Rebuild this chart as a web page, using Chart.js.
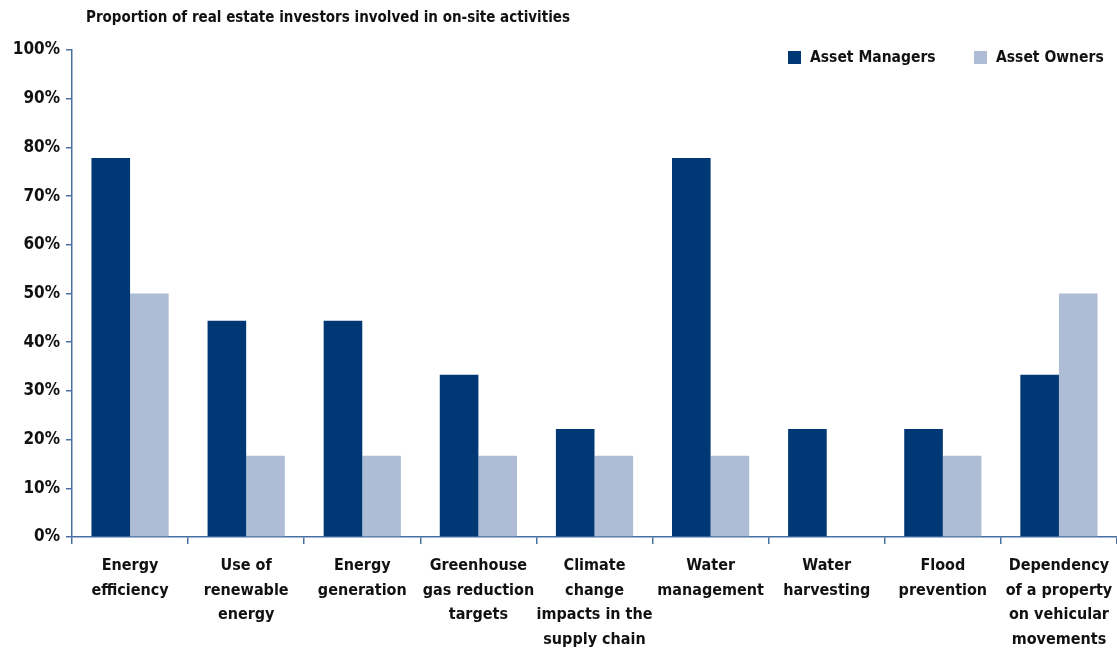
<!DOCTYPE html>
<html>
<head>
<meta charset="utf-8">
<script src="https://cdn.jsdelivr.net/npm/chart.js@4/dist/chart.umd.min.js"></script>
<style>
  html, body { margin: 0; padding: 0; background: #fff; }
  #wrap { position: relative; width: 1117px; height: 649px; }
  #title {
    position: absolute; left: 86px; top: 8px; white-space: nowrap;
    font: bold 15px "DejaVu Sans Condensed", "Liberation Sans Narrow", sans-serif;
    color: #111;
  }
  #legend {
    position: absolute; top: 48px; left: 788px; white-space: nowrap;
    font: bold 15.5px "DejaVu Sans Condensed", "Liberation Sans Narrow", sans-serif;
    color: #111; display: flex;
  }
  #legend .item { display: flex; align-items: center; }
  #legend .box { width: 13px; height: 13px; margin-right: 9px; }
</style>
</head>
<body>
<div id="wrap">
  <canvas id="chart" width="1117" height="649"></canvas>
  <div id="title"></div>
  <div id="legend"></div>
</div>
<script>
const chartTitle = 'Proportion of real estate investors involved in on-site activities';
const categories = [
  ['Energy', 'efficiency'],
  ['Use of', 'renewable', 'energy'],
  ['Energy', 'generation'],
  ['Greenhouse', 'gas reduction', 'targets'],
  ['Climate', 'change', 'impacts in the', 'supply chain'],
  ['Water', 'management'],
  ['Water', 'harvesting'],
  ['Flood', 'prevention'],
  ['Dependency', 'of a property', 'on vehicular', 'movements']
];
const assetManagers = [77.8, 44.4, 44.4, 33.3, 22.2, 77.8, 22.2, 22.2, 33.3];
const assetOwners = [50, 16.7, 16.7, 16.7, 16.7, 16.7, 0, 16.7, 50];
const seriesNames = ['Asset Managers', 'Asset Owners'];
const seriesColors = ['#003876', '#aebcd6'];

const axisColor = '#4a70a2';
const fontFamily = '"DejaVu Sans Condensed", "Liberation Sans Narrow", sans-serif';

document.getElementById('title').textContent = chartTitle;

// simple html legend sitting over the top right of the plot
const legendEl = document.getElementById('legend');
seriesNames.forEach((name, i) => {
  const item = document.createElement('div');
  item.className = 'item';
  item.style.width = i === 0 ? '186px' : 'auto';
  const box = document.createElement('span');
  box.className = 'box';
  box.style.background = seriesColors[i];
  item.appendChild(box);
  item.appendChild(document.createTextNode(name));
  legendEl.appendChild(item);
});

const ctx = document.getElementById('chart').getContext('2d');
new Chart(ctx, {
  type: 'bar',
  data: {
    labels: categories,
    datasets: [
      {
        label: seriesNames[0],
        data: assetManagers,
        backgroundColor: seriesColors[0],
        categoryPercentage: 0.665,
        barPercentage: 1.0
      },
      {
        label: seriesNames[1],
        data: assetOwners,
        backgroundColor: seriesColors[1],
        categoryPercentage: 0.665,
        barPercentage: 1.0
      }
    ]
  },
  options: {
    responsive: false,
    animation: false,
    layout: { padding: { top: 50, right: 0, left: 0, bottom: 0 } },
    plugins: {
      legend: { display: false },
      tooltip: { enabled: false }
    },
    scales: {
      x: {
        grid: {
          offset: true,
          drawOnChartArea: false,
          color: axisColor,
          tickLength: 7,
          lineWidth: 1.5
        },
        border: { color: axisColor, width: 1.5 },
        ticks: {
          color: '#111',
          padding: 10,
          maxRotation: 0,
          autoSkip: false,
          font: { family: fontFamily, size: 16, weight: 'bold', lineHeight: 1.53 }
        },
        afterFit: (scale) => {
          scale.height = 112;
          // let the plot run to the right edge
          scale.paddingLeft = 0;
          scale.paddingRight = 0;
        }
      },
      y: {
        min: 0,
        max: 100,
        grid: {
          drawOnChartArea: false,
          color: axisColor,
          tickLength: 6,
          lineWidth: 1.5
        },
        border: { color: axisColor, width: 1.5 },
        ticks: {
          stepSize: 10,
          color: '#111',
          padding: 6,
          font: { family: fontFamily, size: 17, weight: 'bold' },
          callback: (v) => v + '%'
        },
        afterFit: (scale) => {
          scale.width = 72;
          scale.paddingTop = 0;
          scale.paddingBottom = 0;
        }
      }
    }
  }
});
</script>
</body>
</html>
